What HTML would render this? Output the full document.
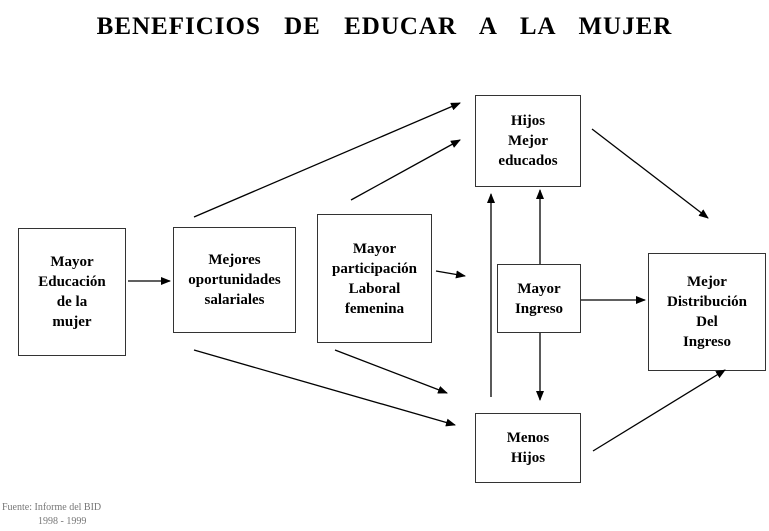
<!DOCTYPE html>
<html><head><meta charset="utf-8"><style>
body{margin:0;background:#fff;width:769px;height:531px;overflow:hidden;position:relative;font-family:"Liberation Serif",serif;}
.t{position:absolute;left:0;width:769px;top:13px;text-align:center;font-weight:bold;font-size:25px;word-spacing:16px;letter-spacing:1px;}
.b{position:absolute;border:1px solid #333;box-sizing:border-box;display:flex;align-items:center;justify-content:center;text-align:center;font-weight:bold;font-size:15px;line-height:20px;}
.f{position:absolute;font-size:10px;color:#777;font-family:"Liberation Serif",serif;}
</style></head><body>
<div class="t">BENEFICIOS DE EDUCAR A LA MUJER</div>
<div class="b" style="left:18px;top:228px;width:108px;height:128px">Mayor<br>Educación<br>de la<br>mujer</div>
<div class="b" style="left:173px;top:227px;width:123px;height:106px">Mejores<br>oportunidades<br>salariales</div>
<div class="b" style="left:317px;top:214px;width:115px;height:129px">Mayor<br>participación<br>Laboral<br>femenina</div>
<div class="b" style="left:475px;top:95px;width:106px;height:92px">Hijos<br>Mejor<br>educados</div>
<div class="b" style="left:497px;top:264px;width:84px;height:69px">Mayor<br>Ingreso</div>
<div class="b" style="left:475px;top:413px;width:106px;height:70px">Menos<br>Hijos</div>
<div class="b" style="left:648px;top:253px;width:118px;height:118px">Mejor<br>Distribución<br>Del<br>Ingreso</div>
<svg width="769" height="531" style="position:absolute;left:0;top:0">
<defs><marker id="a" markerWidth="10" markerHeight="8" refX="9" refY="4" orient="auto" markerUnits="userSpaceOnUse"><path d="M0,0L10,4L0,8z" fill="#000"/></marker></defs>
<g stroke="#000" stroke-width="1.3" marker-end="url(#a)">
<line x1="128" y1="281" x2="170" y2="281"/>
<line x1="194" y1="217" x2="460" y2="103"/>
<line x1="351" y1="200" x2="460" y2="140"/>
<line x1="194" y1="350" x2="455" y2="425"/>
<line x1="335" y1="350" x2="447" y2="393"/>
<line x1="436" y1="271" x2="465" y2="276"/>
<line x1="491" y1="397" x2="491" y2="194"/>
<line x1="540" y1="264" x2="540" y2="190"/>
<line x1="540" y1="333" x2="540" y2="400"/>
<line x1="581" y1="300" x2="645" y2="300"/>
<line x1="592" y1="129" x2="708" y2="218"/>
<line x1="593" y1="451" x2="725" y2="370"/>
</g></svg>
<div class="f" style="left:2px;top:502px">Fuente: Informe del BID</div>
<div class="f" style="left:38px;top:516px">1998 - 1999</div>
</body></html>
